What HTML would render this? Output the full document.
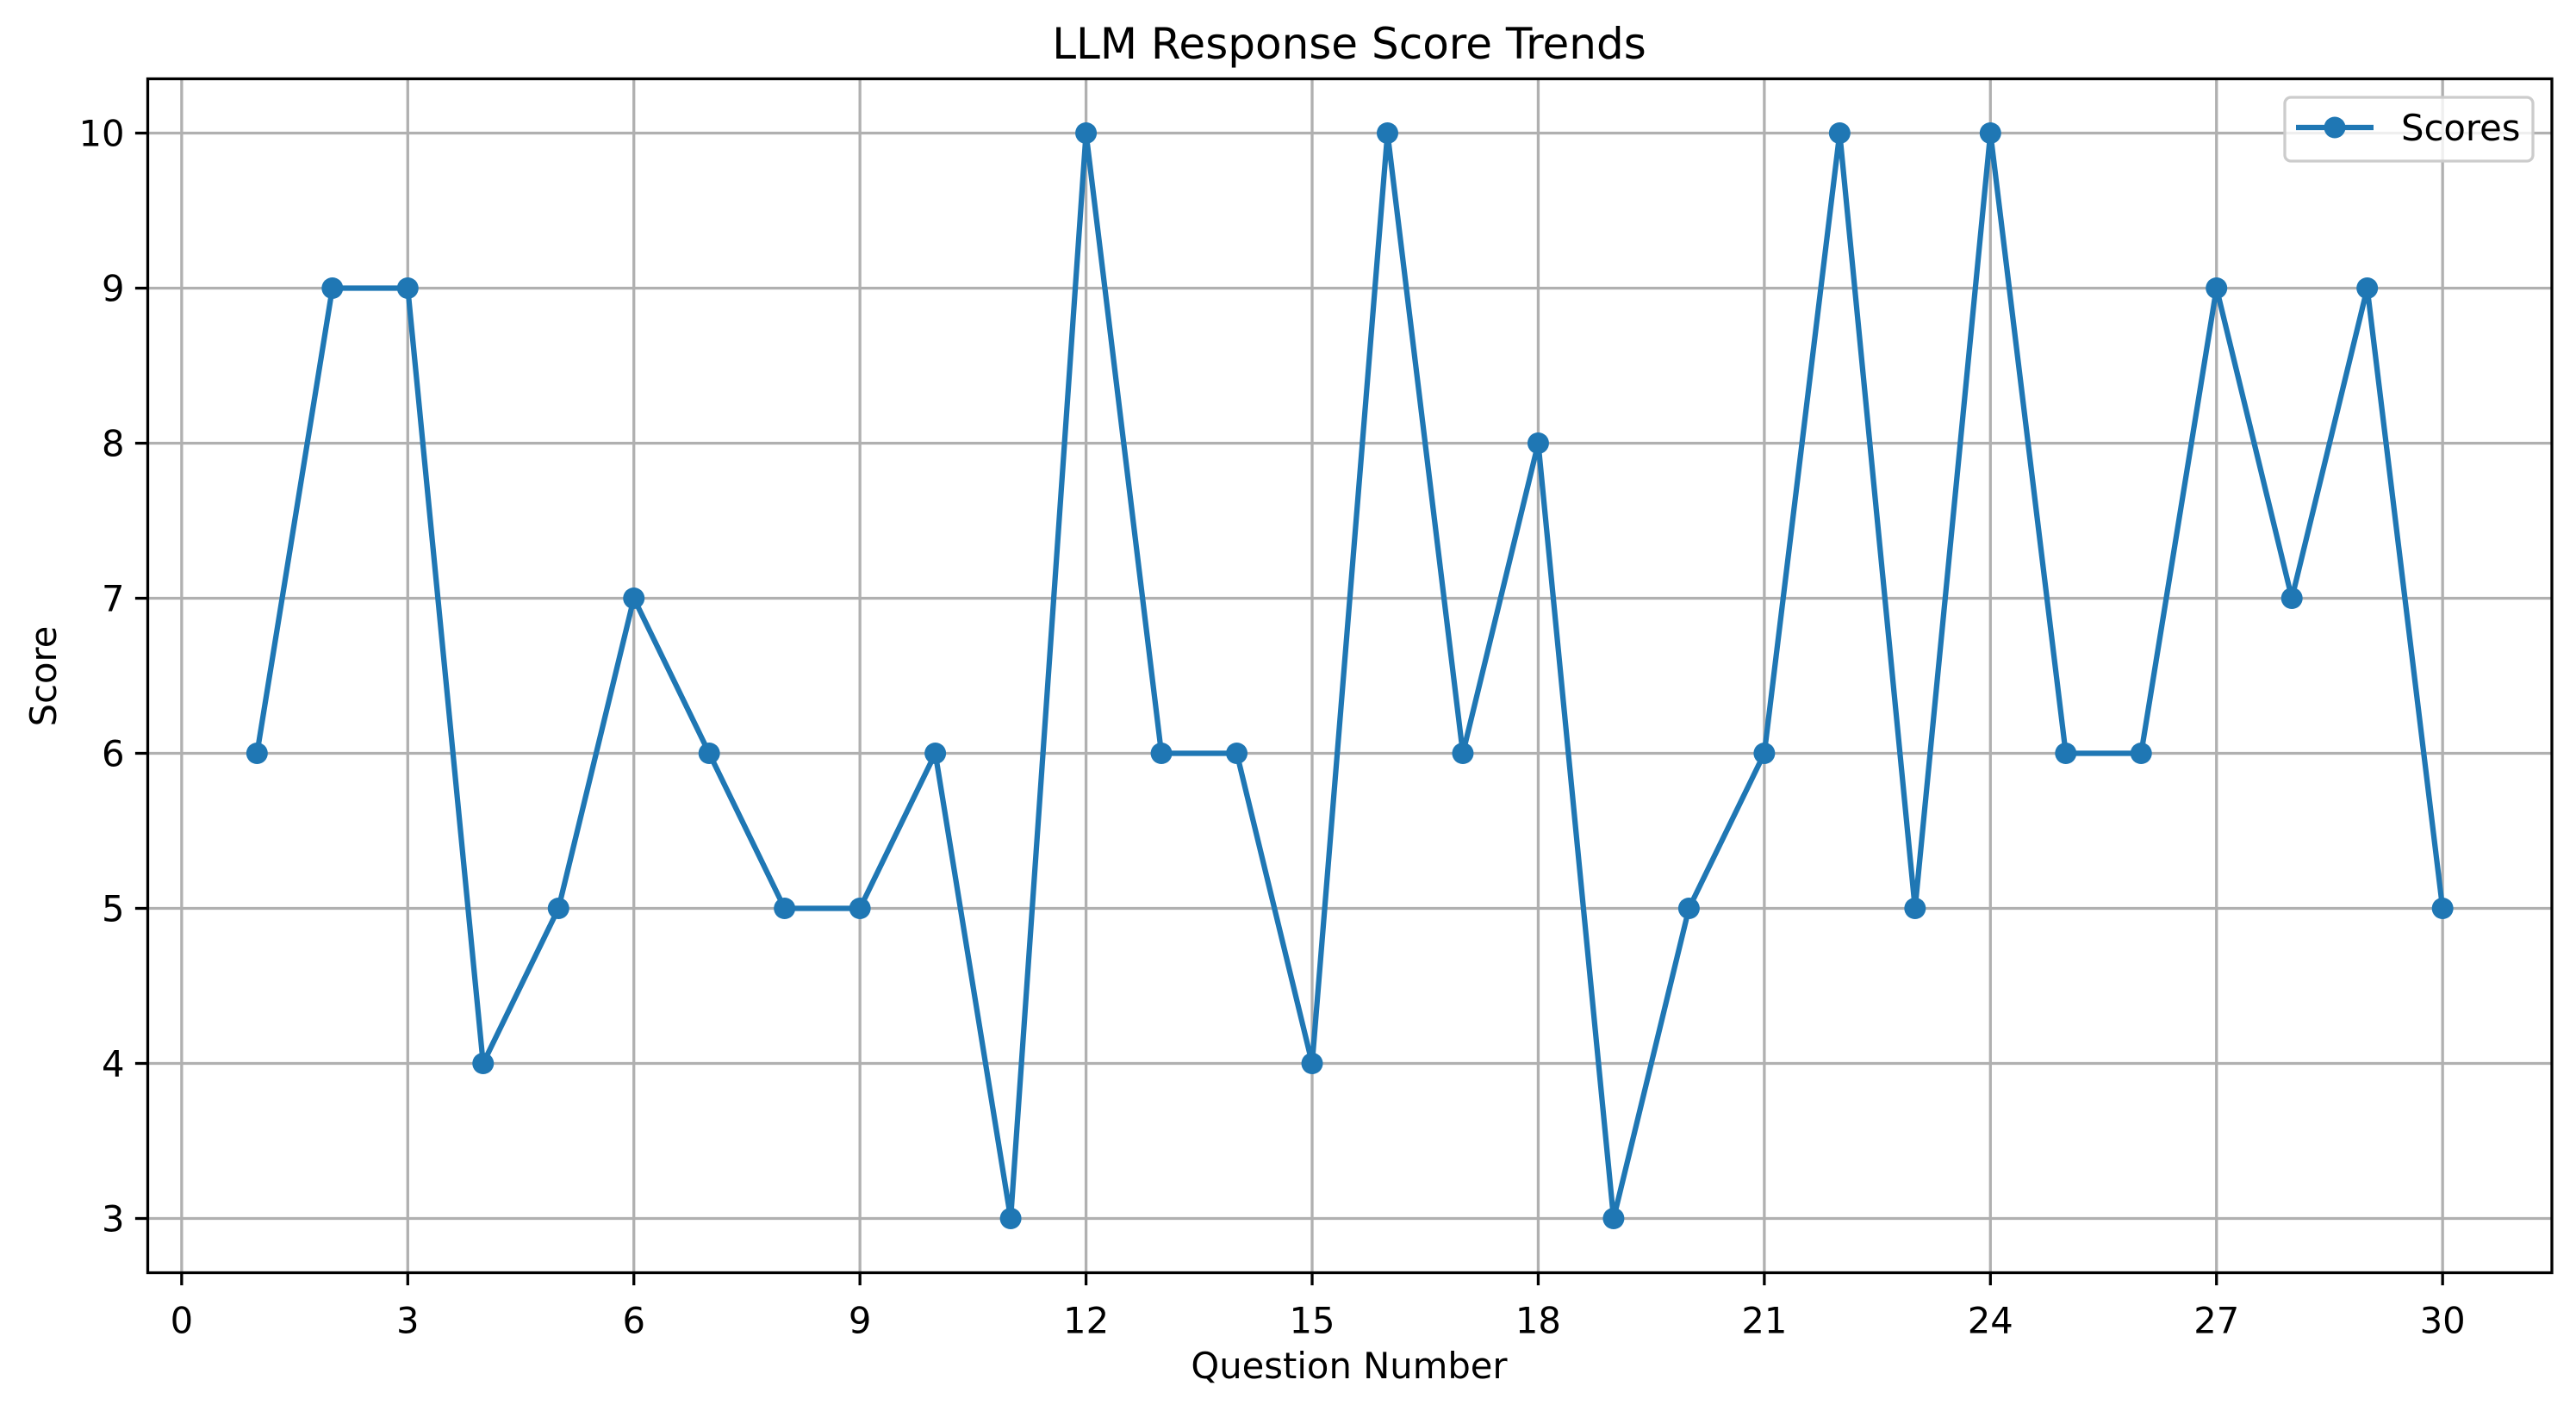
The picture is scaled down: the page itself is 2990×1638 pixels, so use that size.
<!DOCTYPE html>
<html><head><meta charset="utf-8"><style>body{margin:0;background:#fff}svg{display:block;font-family:"DejaVu Sans","Liberation Sans",sans-serif}</style></head>
<body>
<svg id="chart" width="2990" height="1638" viewBox="0 0 2990 1638" xmlns="http://www.w3.org/2000/svg">
<rect width="2990" height="1638" fill="#fff"/>
<g id="grid"></g>
<g id="ticks"></g>
<g id="series"></g>
<rect x="171.5" y="91.5" width="2790.5" height="1386" fill="none" stroke="#000" stroke-width="3.3"/>
<text x="1566" y="68" font-size="50" text-anchor="middle">LLM Response Score Trends</text>
<text x="1566" y="1600" font-size="41.7" text-anchor="middle">Question Number</text>
<text x="65" y="785" font-size="41.7" text-anchor="middle" transform="rotate(-90 65 785)">Score</text>
<g>
<rect x="2652" y="113" width="288" height="74" rx="7" fill="#fff" fill-opacity="0.8" stroke="#ccc" stroke-width="3.3"/>
<line x1="2665" y1="148" x2="2755" y2="148" stroke="#1f77b4" stroke-width="6.25"/>
<circle cx="2710" cy="148" r="12.5" fill="#1f77b4"/>
<text x="2787" y="163" font-size="41.7">Scores</text>
</g>
</svg>
<script>
const questions=[1,2,3,4,5,6,7,8,9,10,11,12,13,14,15,16,17,18,19,20,21,22,23,24,25,26,27,28,29,30];
const scores=[6,9,9,4,5,7,6,5,5,6,3,10,6,6,4,10,6,8,3,5,6,10,5,10,6,6,9,7,9,5];
const xTicks=[0,3,6,9,12,15,18,21,24,27,30];
const yTicks=[3,4,5,6,7,8,9,10];
const L=171.5,R=2962,T=91.5,B=1477.5;
const xmin=-0.45,xmax=31.45,ymin=2.65,ymax=10.35;
const sx=v=>L+(v-xmin)/(xmax-xmin)*(R-L);
const sy=v=>B-(v-ymin)/(ymax-ymin)*(B-T);
const NS='http://www.w3.org/2000/svg';
function mk(tag,attrs,parent){const e=document.createElementNS(NS,tag);for(const k in attrs)e.setAttribute(k,attrs[k]);document.getElementById(parent).appendChild(e);return e;}
xTicks.forEach(t=>{
 const g=mk('line',{x1:sx(t),x2:sx(t),y1:T,y2:B,stroke:'#b0b0b0','stroke-width':3.3},'grid');
 
 
 const tk=mk('line',{x1:sx(t),x2:sx(t),y1:B,y2:B+14.6,stroke:'#000','stroke-width':3.3},'ticks');
 
 
 const lb=mk('text',{x:sx(t),y:B+70,'font-size':41.7,'text-anchor':'middle'},'ticks');
 lb.textContent=t;
 
 
});
yTicks.forEach(t=>{
 const g=mk('line',{x1:L,x2:R,y1:sy(t),y2:sy(t),stroke:'#b0b0b0','stroke-width':3.3},'grid');
 
 
 const tk=mk('line',{x1:L-14.6,x2:L,y1:sy(t),y2:sy(t),stroke:'#000','stroke-width':3.3},'ticks');
 
 
 const lb=mk('text',{x:L-27,y:sy(t)+15,'font-size':41.7,'text-anchor':'end'},'ticks');
 lb.textContent=t;
 
 
});
const pts=questions.map((q,i)=>sx(q)+','+sy(scores[i])).join(' ');
const pl=mk('polyline',{points:pts,fill:'none',stroke:'#1f77b4','stroke-width':6.25,'stroke-linejoin':'round'},'series');


questions.forEach((q,i)=>{
 const c=mk('circle',{cx:sx(q),cy:sy(scores[i]),r:12.5,fill:'#1f77b4'},'series');
 
 
});
</script>
</body></html>
